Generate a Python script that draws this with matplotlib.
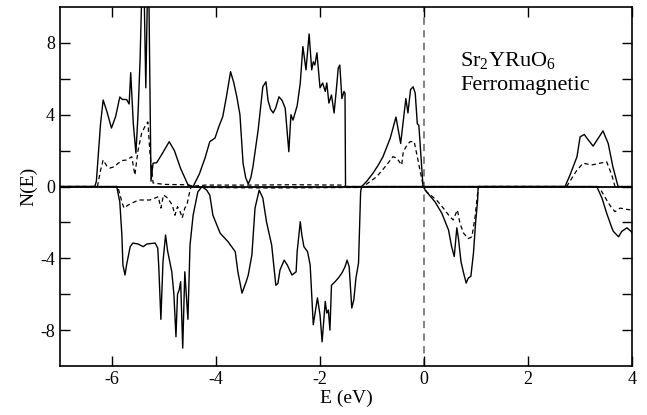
import numpy as np
import matplotlib
matplotlib.use("Agg")
import matplotlib.pyplot as plt

plt.rcParams['font.family'] = ['Liberation Serif', 'DejaVu Serif']
plt.rcParams['mathtext.fontset'] = 'custom'
plt.rcParams['mathtext.rm'] = 'Liberation Serif'
plt.rcParams['axes.unicode_minus'] = False

# spin-up total DOS (solid)
e_up_tot = [-7.0, -6.33, -6.30, -6.22, -6.17, -6.10, -6.01, -5.93, -5.85, -5.80,
            -5.72, -5.67, -5.64, -5.59, -5.54, -5.50, -5.46, -5.43, -5.38, -5.35,
            -5.32, -5.29, -5.25, -5.21, -5.14, -5.02, -4.90, -4.80, -4.68, -4.54,
            -4.44, -4.32, -4.21, -4.12, -4.02, -3.95, -3.87, -3.80, -3.72, -3.66,
            -3.60, -3.54, -3.48, -3.43, -3.38, -3.33, -3.29, -3.19, -3.10, -3.04,
            -3.00, -2.95, -2.90, -2.85, -2.79, -2.73, -2.67, -2.60, -2.56, -2.52,
            -2.44, -2.38, -2.33, -2.27, -2.21, -2.16, -2.13, -2.10, -2.06, -2.00,
            -1.95, -1.90, -1.87, -1.83, -1.78, -1.73, -1.69, -1.65, -1.62, -1.58,
            -1.54, -1.52, -1.51, -1.20, -1.10, -0.98, -0.88, -0.79, -0.65, -0.54,
            -0.45, -0.35, -0.31, -0.26, -0.21, -0.17, -0.13, -0.10, -0.02, 2.71,
            2.80, 2.94, 3.00, 3.08, 3.13, 3.25, 3.35, 3.44, 3.54, 3.63,
            3.73, 4.00]
n_up_tot = [0.0, 0.0, 0.3, 3.5, 4.82, 4.2, 3.26, 3.9, 4.99, 4.85,
            4.85, 4.6, 6.34, 3.5, 1.86, 4.0, 7.05, 10.5, 10.5, 5.5,
            10.5, 10.5, 0.3, 1.3, 1.33, 1.9, 2.5, 2.0, 1.0, 0.1,
            0.0, 0.7, 1.6, 2.5, 2.7, 3.3, 3.9, 5.0, 6.4, 5.8,
            5.0, 4.0, 1.3, 0.5, 0.14, 0.5, 1.1, 3.15, 5.56, 5.84,
            4.8, 4.3, 4.1, 4.4, 5.0, 4.8, 4.37, 1.94, 4.0, 3.7,
            4.5, 5.77, 7.8, 6.5, 8.5, 6.5, 6.95, 6.77, 7.45, 5.5,
            5.77, 5.3, 5.77, 4.65, 5.1, 4.1, 5.3, 6.6, 6.77, 4.9,
            5.3, 5.2, 0.0, 0.0, 0.3, 0.75, 1.2, 1.66, 2.7, 3.87,
            2.4, 4.9, 4.1, 5.4, 5.56, 5.2, 3.5, 3.4, 0.0, 0.0,
            0.6, 1.66, 2.77, 2.9, 2.7, 2.25, 2.7, 3.1, 2.4, 1.1,
            0.0, 0.0]

# spin-up partial DOS (dashed)
e_up_part = [-7.0, -6.28, -6.22, -6.17, -6.10, -6.04, -5.96, -5.88, -5.80, -5.72,
             -5.62, -5.56, -5.50, -5.43, -5.37, -5.31, -5.27, -5.21, -5.00, -4.60,
             -4.44, -4.20, -3.40, -2.50, -1.55, -1.51, -1.17, -1.05, -0.91, -0.72,
             -0.60, -0.53, -0.43, -0.40, -0.33, -0.27, -0.19, -0.13, -0.04, -0.01,
             2.74, 2.94, 3.06, 3.22, 3.38, 3.51, 3.61, 3.67, 4.00]
n_up_part = [0.0, 0.0, 0.9, 1.48, 1.15, 1.03, 1.1, 1.3, 1.45, 1.48,
             1.66, 0.64, 2.0, 2.97, 3.33, 3.6, 1.86, 0.2, 0.12, 0.1,
             0.02, 0.08, 0.08, 0.1, 0.08, 0.0, 0.0, 0.25, 0.55, 1.2,
             1.66, 1.6, 1.2, 1.94, 2.3, 2.5, 2.5, 1.66, 0.36, 0.0,
             0.0, 0.92, 1.3, 1.2, 1.3, 1.38, 0.64, 0.0, 0.0]

# spin-down total DOS (solid)
e_dn_tot = [-7.0, -5.91, -5.85, -5.81, -5.79, -5.75, -5.72, -5.65, -5.60, -5.50,
            -5.40, -5.33, -5.17, -5.12, -5.10, -5.06, -5.02, -4.97, -4.93, -4.85,
            -4.81, -4.77, -4.74, -4.71, -4.68, -4.64, -4.60, -4.58, -4.54, -4.50,
            -4.44, -4.35, -4.27, -4.18, -4.12, -4.06, -3.92, -3.77, -3.63, -3.58,
            -3.50, -3.42, -3.38, -3.31, -3.25, -3.17, -3.10, -3.03, -2.93, -2.85,
            -2.81, -2.77, -2.69, -2.63, -2.54, -2.46, -2.44, -2.38, -2.35, -2.31,
            -2.24, -2.19, -2.13, -2.05, -2.00, -1.96, -1.90, -1.87, -1.84, -1.81,
            -1.78, -1.71, -1.65, -1.58, -1.52, -1.48, -1.44, -1.39, -1.35, -1.31,
            -1.26, -1.22, -1.20, 0.00, 0.02, 0.21, 0.34, 0.47, 0.53, 0.58,
            0.63, 0.66, 0.71, 0.76, 0.81, 0.85, 0.90, 0.95, 0.99, 1.03,
            1.04, 3.32, 3.42, 3.51, 3.61, 3.64, 3.74, 3.80, 3.90, 3.98,
            4.00]
n_dn_tot = [0.0, 0.0, -0.85, -2.7, -4.37, -4.93, -4.37, -3.35, -3.15, -3.2,
            -3.35, -3.2, -3.15, -3.43, -4.5, -7.4, -4.2, -2.7, -3.6, -4.75,
            -6.0, -8.37, -6.0, -5.77, -5.3, -9.0, -4.75, -5.65, -7.4, -3.26,
            -1.6, -0.3, 0.0, -0.2, -0.47, -1.6, -2.6, -3.07, -3.63, -4.75,
            -5.94, -5.3, -4.93, -3.8, -1.2, -0.2, -0.64, -1.96, -3.26, -5.5,
            -5.4, -4.65, -4.1, -4.37, -4.93, -4.75, -3.63, -1.96, -2.7, -3.35,
            -3.63, -4.37, -7.7, -6.2, -7.16, -8.65, -6.4, -7.05, -6.88, -8.0,
            -5.5, -5.3, -5.1, -4.82, -4.47, -4.1, -4.47, -6.77, -6.3, -5.1,
            -4.26, -0.3, 0.0, 0.0, -0.2, -0.85, -1.48, -2.42, -3.35, -3.9,
            -2.3, -2.87, -4.19, -4.82, -5.38, -5.1, -5.0, -3.7, -2.03, -0.75,
            0.0, 0.0, -0.64, -1.48, -2.3, -2.5, -2.8, -2.5, -2.3, -2.5,
            -2.6]

# spin-down partial DOS (dashed)
e_dn_part = [-7.0, -5.90, -5.88, -5.81, -5.77, -5.69, -5.49, -5.27, -5.11, -5.06,
             -5.01, -4.93, -4.84, -4.79, -4.74, -4.69, -4.65, -4.60, -4.56, -4.52,
             -4.48, -4.30, -3.00, -1.25, -1.20, 0.00, 0.05, 0.24, 0.37, 0.49,
             0.56, 0.64, 0.69, 0.76, 0.85, 0.92, 0.98, 1.03, 1.05, 3.36,
             3.38, 3.51, 3.59, 3.67, 3.77, 3.87, 3.96, 4.00]
n_dn_part = [0.0, 0.0, -0.1, -0.85, -1.2, -1.03, -0.75, -0.75, -0.57, -1.2,
             -0.47, -0.64, -1.03, -1.6, -1.12, -1.4, -1.75, -1.2, -1.03, -0.47,
             0.0, -0.05, -0.08, -0.05, 0.0, 0.0, -0.3, -0.75, -1.2, -1.66,
             -1.86, -1.3, -2.05, -2.6, -2.9, -2.8, -1.7, -0.38, 0.0, 0.0,
             -0.1, -0.75, -1.12, -1.4, -1.2, -1.26, -1.3, -1.3]

fig = plt.figure(figsize=(6.47, 4.15), dpi=100)
ax = fig.add_axes([0.0927, 0.118, 0.8843, 0.865])

ax.axhline(0, color='black', lw=1.3, zorder=1)
ax.axvline(0, color='#777777', lw=1.3, dashes=(4, 3), zorder=1)

ax.plot(e_up_tot, n_up_tot, color='black', lw=1.0)
ax.plot(e_dn_tot, n_dn_tot, color='black', lw=1.0)
ax.plot(e_up_part, n_up_part, color='black', lw=0.9, dashes=(3.5, 2.5))
ax.plot(e_dn_part, n_dn_part, color='black', lw=0.9, dashes=(3.5, 2.5))

ax.set_xlim(-7, 4)
ax.set_ylim(-10, 10)
ax.set_xticks([-6, -4, -2, 0, 2, 4])
ax.set_yticks([-8, -4, 0, 4, 8])
ax.set_yticks([-6, -2, 2, 6], minor=True)
ax.tick_params(which='both', direction='in', length=7, width=1.0,
               top=True, right=True, labelsize=13)
for s in ax.spines.values():
    s.set_linewidth(1.2)

ax.set_xlabel('E (eV)', fontsize=14, labelpad=1)
ax.set_ylabel('N(E)', fontsize=14, labelpad=2)

ax.text(0.69, 6.67, r'Sr$_\mathrm{2}$YRuO$_\mathrm{6}$', fontsize=16, ha='left', va='baseline')
ax.text(0.69, 5.38, 'Ferromagnetic', fontsize=16, ha='left', va='baseline')

fig.savefig('out.png', dpi=100)
